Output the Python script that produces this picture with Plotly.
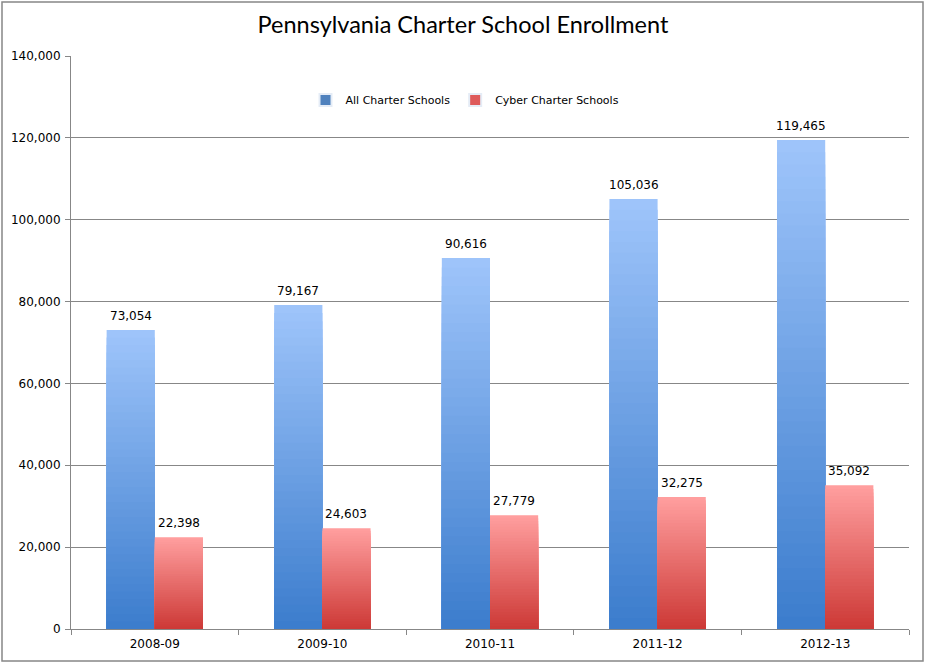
import plotly.graph_objects as go

years = ["2008-09", "2009-10", "2010-11", "2011-12", "2012-13"]
all_charter = [73054, 79167, 90616, 105036, 119465]
cyber_charter = [22398, 24603, 27779, 32275, 35092]
series_names = ["All Charter Schools", "Cyber Charter Schools"]

W, H = 926, 663
ML, MR, MT, MB = 71, 17, 56, 34
PW, PH = W - ML - MR, H - MT - MB

BAR_W = 0.2874
N_LAYERS = 40
CAT_PX = PW / len(years)

blue_top, blue_bot = (158, 196, 250), (60, 125, 205)
red_top, red_bot = (255, 158, 158), (205, 58, 55)


def mix(c1, c2, t):
    return "rgb(%d,%d,%d)" % tuple(round(a + (b - a) * t) for a, b in zip(c1, c2))


fig = go.Figure()
annotations = []

for values, name, top, bot, offset, legend_col in [
    (all_charter, series_names[0], blue_top, blue_bot, -BAR_W, "rgb(79,129,189)"),
    (cyber_charter, series_names[1], red_top, red_bot, 0.0, "rgb(222,90,90)"),
]:
    # legend entry only
    fig.add_trace(go.Bar(
        x=years, y=[None] * len(years), name=name, marker_color=legend_col,
        offset=offset, width=BAR_W, showlegend=True, hoverinfo="skip",
    ))
    for k in range(N_LAYERS):
        frac = 1 - k / N_LAYERS
        t = k / (N_LAYERS - 1)
        fig.add_trace(go.Bar(
            x=years,
            y=[v * frac for v in values],
            marker=dict(color=mix(top, bot, t), line=dict(width=0)),
            offset=offset, width=BAR_W,
            showlegend=False,
            hoverinfo="skip",
            name=name,
        ))
    shift = (offset + BAR_W / 2) * CAT_PX
    for yr, v in zip(years, values):
        annotations.append(dict(
            x=yr, y=v, xref="x", yref="y",
            text=f"{v:,}", showarrow=False,
            xanchor="center", yanchor="bottom",
            xshift=shift, yshift=5,
            font=dict(family="DejaVu Sans", size=12, color="black"),
        ))

fig.update_layout(
    width=W, height=H,
    margin=dict(l=ML, r=MR, t=MT, b=MB, autoexpand=False),
    barmode="overlay",
    paper_bgcolor="white",
    plot_bgcolor="white",
    annotations=annotations,
    title=dict(
        text="Pennsylvania Charter School Enrollment",
        x=463 / W, xanchor="center", xref="container",
        y=1 - 25 / H, yanchor="middle", yref="container",
        font=dict(family="Lato", size=23.5, color="black"),
    ),
    legend=dict(
        orientation="h",
        x=(465 - ML) / PW, xanchor="center",
        y=(H - MB - 100) / PH, yanchor="middle",
        font=dict(family="DejaVu Sans", size=11, color="black"),
        bgcolor="rgba(0,0,0,0)",
        itemsizing="constant",
        traceorder="normal",
    ),
    xaxis=dict(
        type="category",
        automargin=False,
        showline=True, linecolor="#878787", linewidth=1,
        ticks="outside", tickson="boundaries", ticklen=5, tickcolor="#878787",
        ticklabelstandoff=4,
        showgrid=False,
        tickfont=dict(family="DejaVu Sans", size=12, color="black"),
        range=[-0.5, 4.5],
    ),
    yaxis=dict(
        automargin=False,
        range=[0, 140000],
        tickvals=list(range(0, 140001, 20000)),
        ticktext=[f"{v:,}" for v in range(0, 140001, 20000)],
        showline=True, linecolor="#878787", linewidth=1,
        ticks="outside", ticklen=5, tickcolor="#878787",
        ticklabelstandoff=2,
        showgrid=True, gridcolor="#878787", gridwidth=1,
        zeroline=False,
        tickfont=dict(family="DejaVu Sans", size=12, color="black"),
    ),
    shapes=[dict(
        type="rect", xref="paper", yref="paper",
        x0=(2 - ML) / PW, x1=(923 - ML) / PW,
        y0=(H - MB - 661) / PH, y1=(H - MB - 2) / PH,
        line=dict(color="#878787", width=1.5), fillcolor="rgba(0,0,0,0)",
        layer="below",
    )],
)

fig.write_html(
    "out.html",
    config={"displayModeBar": False},
    post_script="document.body.style.margin='0';document.body.style.padding='0';",
)
